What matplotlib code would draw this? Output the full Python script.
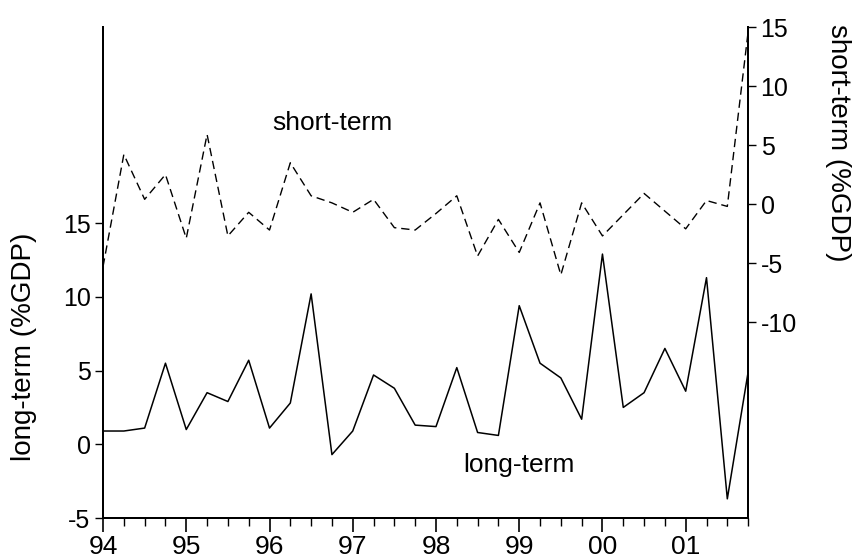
import numpy as np
import matplotlib.pyplot as plt
from matplotlib.ticker import FixedLocator

plt.rcParams['font.family'] = ['Liberation Sans', 'DejaVu Sans']

# quarterly data, 1994Q1 - 2001Q4
years = [94, 95, 96, 97, 98, 99, 100, 101]
year_labels = ['94', '95', '96', '97', '98', '99', '00', '01']

long_term = [0.9, 0.9, 1.1, 5.5, 1.0, 3.5, 2.9, 5.7,
             1.1, 2.8, 10.2, -0.7, 0.9, 4.7, 3.8, 1.3,
             1.2, 5.2, 0.8, 0.6, 9.4, 5.5, 4.5, 1.7,
             12.9, 2.5, 3.5, 6.5, 3.6, 11.3, -3.7, 4.9]

short_term = [-5.3, 4.2, 0.4, 2.5, -2.9, 5.9, -2.7, -0.7,
              -2.2, 3.5, 0.7, 0.1, -0.7, 0.4, -2.0, -2.2,
              -0.8, 0.7, -4.4, -1.3, -4.1, 0.1, -6.0, 0.1,
              -2.7, -0.9, 0.9, -0.6, -2.1, 0.3, -0.2, 14.6]

left_ticks = [-5, 0, 5, 10, 15]
right_ticks = [-10, -5, 0, 5, 10, 15]

x = 94 + np.arange(len(long_term)) / 4.0

fig = plt.figure(figsize=(8.55, 5.57), dpi=100)
ax = fig.add_axes([0.1205, 0.07, 0.7545, 0.8815])
ax2 = ax.twinx()

ax.plot(x, long_term, color='black', linewidth=1.1)
ax2.plot(x, short_term, color='black', linewidth=1.0, linestyle=(0, (6, 3.5)))

ax.set_xlim(94, 94 + 31 / 4.0)
ax.set_ylim(-5, 28.3)
ax2.set_ylim(-26.6, 15)

ax.xaxis.set_major_locator(FixedLocator(years))
ax.set_xticklabels(year_labels)
ax.xaxis.set_minor_locator(FixedLocator(x))
ax.set_yticks(left_ticks)
ax.set_yticklabels([str(t) for t in left_ticks])
ax2.set_yticks(right_ticks)
ax2.set_yticklabels([str(t) for t in right_ticks])

for a in (ax, ax2):
    a.spines['top'].set_visible(False)
    for s in ('left', 'right', 'bottom'):
        a.spines[s].set_linewidth(1.4)

ax.tick_params(axis='x', which='major', direction='out', length=10, width=1.2,
               labelsize=19, pad=2)
ax.tick_params(axis='x', which='minor', direction='out', length=5.5, width=1.0)
ax.tick_params(axis='y', direction='out', length=6, width=1.0, labelsize=18, pad=3)
ax2.tick_params(axis='y', direction='out', length=6, width=1.0, labelsize=18, pad=3)

ax.set_ylabel('long-term (%GDP)', fontsize=20)
ax.yaxis.set_label_coords(-0.102, 0.349)
ax2.set_ylabel('short-term (%GDP)', fontsize=20, rotation=270)
ax2.yaxis.set_label_coords(1.160, 0.765)

ax.text(96.76, 21.8, 'short-term', fontsize=19, ha='center', va='center')
ax.text(99.0, -1.4, 'long-term', fontsize=19, ha='center', va='center')

fig.savefig('out.png', dpi=100)
